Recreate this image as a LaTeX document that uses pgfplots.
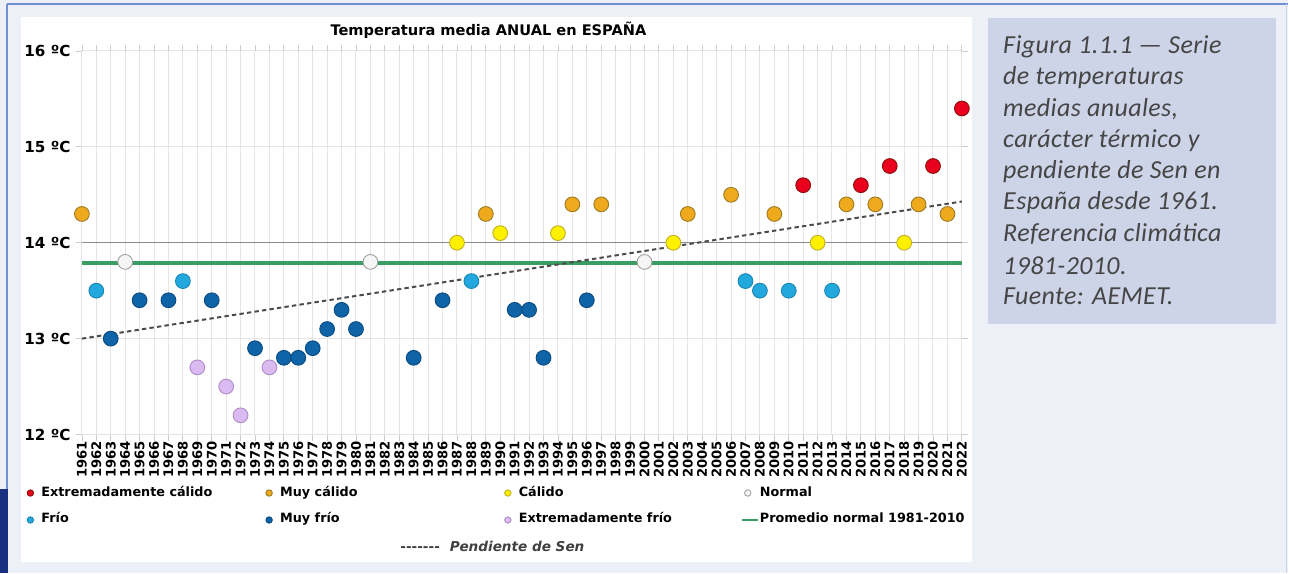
\documentclass[border=0pt]{standalone}
\usepackage{fontspec}
\setmainfont{DejaVu Sans}
\newfontfamily\capfont{Carlito}
\usepackage{pgfplots}
\pgfplotsset{compat=1.18}
\definecolor{bgl}{HTML}{EEF0F8}
\definecolor{bordeazul}{HTML}{7090D0}
\definecolor{navy}{HTML}{18307F}
\definecolor{capbox}{HTML}{CDD4E8}
\definecolor{captxt}{HTML}{454545}
\definecolor{excal}{HTML}{E8001C}
\definecolor{excalB}{HTML}{8A1010}
\definecolor{mcal}{HTML}{EEAA1C}
\definecolor{mcalB}{HTML}{9A7A22}
\definecolor{cal}{HTML}{FFF000}
\definecolor{calB}{HTML}{C0B020}
\definecolor{norm}{HTML}{F6F6F6}
\definecolor{normB}{HTML}{A0A0A0}
\definecolor{frio}{HTML}{22A8DC}
\definecolor{frioB}{HTML}{1A86B4}
\definecolor{mfrio}{HTML}{0F64A8}
\definecolor{mfrioB}{HTML}{0A4A80}
\definecolor{exfrio}{HTML}{DABAF0}
\definecolor{exfrioB}{HTML}{AE8CC8}
\definecolor{promedio}{HTML}{3A9E62}
\newcommand\fs[1]{\fontsize{#1}{#1}\selectfont}
\newcommand\ent[1]{\makebox[111pt][l]{#1}}

\begin{document}
\begin{tikzpicture}
% paneles de fondo (unidades en px de la imagen)
\begin{scope}[x=0.5pt,y=-0.5pt]
  \fill[bgl] (0,0) rectangle (1289,574);
  \draw[bordeazul,line width=1.5pt] (7,4) -- (1289,4);
  \draw[bordeazul,line width=1.2pt] (7,4) -- (7,490);
  \fill[navy] (0,490) rectangle (8,574);
  \draw[bordeazul!40,line width=0.6pt] (1288,4) -- (1288,574);
  \fill[white] (21,17) rectangle (973,563);
  \fill[capbox] (989,18) rectangle (1277,324);
  \coordinate (O) at (82,435);
  \node[font=\bfseries\fs{7.3}] at (489,30) {Temperatura media ANUAL en ESPAÑA};
  \node[font=\fs{6.8}, text=black!75] at (493,547)
    {\bfseries -{}-{}-{}-{}-{}-{}-\hspace{5pt}\itshape Pendiente de Sen};
  \begin{scope}[font=\capfont\itshape\fs{13}\addfontfeature{LetterSpace=1.5}, text=captxt]
    \foreach \t [count=\i] in {Figura 1.1.1 — Serie, de temperaturas,
        {medias anuales,}, carácter térmico y, pendiente de Sen en,
        España desde 1961., Referencia climática, 1981-2010., Fuente: AEMET.}
      \node[anchor=west, inner sep=0pt] at (1004, 15.3+31.3*\i) {\t};
  \end{scope}
\end{scope}

\begin{axis}[
  at={(O)}, anchor=south west,
  scale only axis, width=440.5pt, height=192pt,
  xmin=1961, xmax=2022, ymin=12, ymax=16,
  clip=false,
  axis line style={draw=none},
  xtick={1961,...,2022},
  ytick={12,13,14,15,16},
  yticklabels={12 ºC,13 ºC,14 ºC,15 ºC,16 ºC},
  extra y ticks={14}, extra y tick labels={},
  extra y tick style={major grid style={color=black!45,line width=0.5pt}},
  grid=major,
  major grid style={color=black!10,line width=0.5pt},
  tick align=outside, major tick length=3pt,
  tick style={color=black!20,line width=0.4pt},
  xticklabel style={font=\bfseries\fs{6.6}, rotate=90, anchor=east,
    inner sep=0pt,
    /pgf/number format/.cd, fixed, precision=0, 1000 sep={}, assume math mode=true},
  yticklabel style={font=\bfseries\fs{7.6}, anchor=east, inner sep=0pt, xshift=-2.5pt},
  legend columns=4,
  legend cell align=left,
  legend style={at={(-0.0658,-0.1354)}, anchor=north west, draw=none, fill=none,
    inner sep=0pt, font=\bfseries\fs{6.4},
    nodes={inner sep=0pt, text height=4.6pt, text depth=1.6pt},
    /tikz/every odd column/.append style={column sep=0.5pt},
    row sep=7.3pt},
  legend image code/.code={\path[draw=none,fill=none] (0pt,-2pt) rectangle (8pt,2pt);
    \draw[mark repeat=2,mark phase=2,#1] plot coordinates {(0pt,0pt) (3pt,0pt) (8pt,0pt)};},
  every axis plot/.append style={only marks, mark=*, mark size=3.7pt},
  legend image post style={mark size=1.6pt},
]
% promedio normal 1981-2010
\addplot[forget plot, sharp plot, no marks, color=promedio, line width=2pt]
  coordinates {(1961,13.79) (2022,13.79)};

\addplot[mark options={draw=excalB, fill=excal, line width=0.45pt}] coordinates {
  (2011,14.6) (2015,14.6) (2017,14.8) (2020,14.8) (2022,15.4)};
\addlegendentry{\ent{Extremadamente cálido}}
\addplot[mark options={draw=mcalB, fill=mcal, line width=0.45pt}] coordinates {
  (1961,14.3) (1989,14.3) (1995,14.4) (1997,14.4) (2003,14.3) (2006,14.5)
  (2009,14.3) (2014,14.4) (2016,14.4) (2019,14.4) (2021,14.3)};
\addlegendentry{\ent{Muy cálido}}
\addplot[mark options={draw=calB, fill=cal, line width=0.45pt}] coordinates {
  (1987,14.0) (1990,14.1) (1994,14.1) (2002,14.0) (2012,14.0) (2018,14.0)};
\addlegendentry{\ent{Cálido}}
\addplot[mark options={draw=normB, fill=norm, line width=0.45pt}] coordinates {
  (1964,13.8) (1981,13.8) (2000,13.8)};
\addlegendentry{\ent{Normal}}
\addplot[mark options={draw=frioB, fill=frio, line width=0.45pt}] coordinates {
  (1962,13.5) (1968,13.6) (1988,13.6) (2007,13.6) (2008,13.5) (2010,13.5) (2013,13.5)};
\addlegendentry{\ent{Frío}}
\addplot[mark options={draw=mfrioB, fill=mfrio, line width=0.45pt}] coordinates {
  (1963,13.0) (1965,13.4) (1967,13.4) (1970,13.4) (1973,12.9) (1975,12.8)
  (1976,12.8) (1977,12.9) (1978,13.1) (1979,13.3) (1980,13.1) (1984,12.8)
  (1986,13.4) (1991,13.3) (1992,13.3) (1993,12.8) (1996,13.4)};
\addlegendentry{\ent{Muy frío}}
\addplot[mark options={draw=exfrioB, fill=exfrio, line width=0.45pt}] coordinates {
  (1969,12.7) (1971,12.5) (1972,12.2) (1974,12.7)};
\addlegendentry{\ent{Extremadamente frío}}
\addlegendimage{sharp plot, no marks, color=promedio, line width=1.2pt}
\addlegendentry{Promedio normal 1981-2010}

% pendiente de Sen
\addplot[forget plot, sharp plot, no marks, color=black!70, line width=1pt,
  dash pattern=on 2.2pt off 1.6pt]
  coordinates {(1961,13.0) (2022,14.43)};
\end{axis}
\end{tikzpicture}
\end{document}
